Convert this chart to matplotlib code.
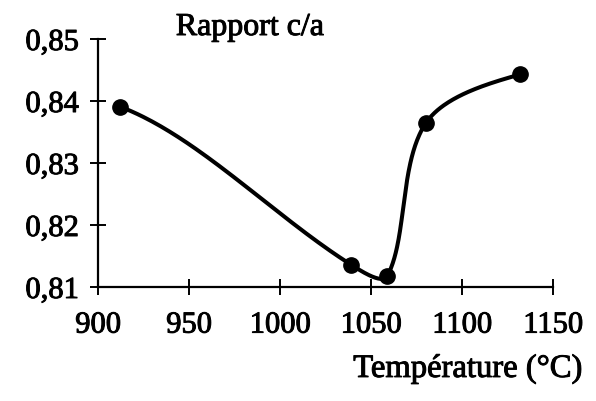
import numpy as np
import matplotlib
matplotlib.use('Agg')
from matplotlib import pyplot as plt
from matplotlib import patheffects

# mesures : température (°C) et rapport c/a
temperatures = [912, 1039, 1059, 1080, 1132]
rapport_ca = [0.8391, 0.8136, 0.8118, 0.8364, 0.8443]

x_ticks = [900, 950, 1000, 1050, 1100, 1150]
y_ticks = [0.81, 0.82, 0.83, 0.84, 0.85]
y_labels = ['0,81', '0,82', '0,83', '0,84', '0,85']


def lisse(ax, xs, ys, n=80, bout=0.55):
    # spline de Catmull-Rom (longueurs de corde) calculée à l'écran,
    # puis ramenée en coordonnées de données
    p = ax.transData.transform(np.column_stack([xs, ys]))
    d = np.linalg.norm(np.diff(p, axis=0), axis=1)
    m = len(p)
    tang = np.zeros_like(p)
    for i in range(1, m - 1):
        tang[i] = (p[i + 1] - p[i - 1]) / 2
    # aux extrémités : corde aplatie
    tang[0] = (p[1] - p[0]) * [1, bout]
    tang[-1] = (p[-1] - p[-2]) * [1, bout]
    t = np.linspace(0, 1, n)[:, None]
    h00 = 2 * t ** 3 - 3 * t ** 2 + 1
    h10 = t ** 3 - 2 * t ** 2 + t
    h01 = -2 * t ** 3 + 3 * t ** 2
    h11 = t ** 3 - t ** 2
    seg = []
    for i in range(m - 1):
        k0 = 1.0 if i == 0 else 2 * d[i] / (d[i - 1] + d[i])
        k1 = 1.0 if i == m - 2 else 2 * d[i] / (d[i] + d[i + 1])
        seg.append(h00 * p[i] + h10 * tang[i] * k0
                   + h01 * p[i + 1] + h11 * tang[i + 1] * k1)
    c = ax.transData.inverted().transform(np.vstack(seg))
    return c[:, 0], c[:, 1]


plt.rcParams['font.family'] = ['Liberation Serif', 'DejaVu Serif']
gras = [patheffects.withStroke(linewidth=0.7, foreground='black')]

fig = plt.figure(figsize=(5.96, 4.01), dpi=100)
ax = fig.add_axes([0.1644, 0.2843, 0.7636, 0.6184])
ax.set_xlim(900, 1150)
ax.set_ylim(0.81, 0.85)

cx, cy = lisse(ax, temperatures, rapport_ca)
ax.plot(cx, cy, color='black', lw=2.9, solid_capstyle='round', clip_on=False)
ax.plot(temperatures, rapport_ca, 'o', color='black', ms=11, clip_on=False)

ax.set_xticks(x_ticks)
ax.set_yticks(y_ticks)
ax.set_yticklabels(y_labels)

for s in ['top', 'right']:
    ax.spines[s].set_visible(False)
for s in ['left', 'bottom']:
    ax.spines[s].set_linewidth(1.6)
ax.tick_params(axis='both', direction='inout', length=12, width=1.4,
               labelsize=22)
ax.tick_params(axis='y', pad=8)
ax.tick_params(axis='x', pad=11)
for lab in ax.get_xticklabels() + ax.get_yticklabels():
    lab.set_path_effects(gras)

fig.text(0.295, 0.9127, 'Rapport c/a', fontsize=23, ha='left',
         va='baseline', path_effects=gras)
fig.text(0.9765, 0.06, 'Température (°C)', fontsize=23.5, ha='right',
         va='baseline', path_effects=gras)

fig.savefig('out.png', dpi=100)
